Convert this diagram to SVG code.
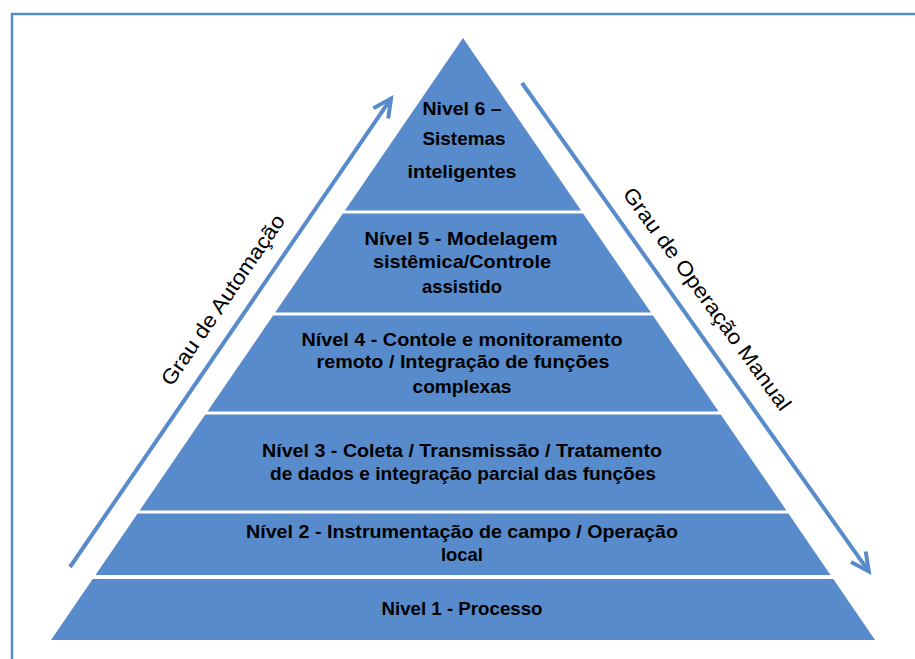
<svg xmlns="http://www.w3.org/2000/svg" width="915" height="659" viewBox="0 0 915 659">
  <style>
    .band { fill: #588bcb; }
    .lbl { font-family: "Liberation Sans", Arial, sans-serif; font-weight: bold; font-size: 19px; fill: #000; text-anchor: middle; }
    .axis { font-family: "Liberation Sans", Arial, sans-serif; font-size: 21px; fill: #000; text-anchor: middle; }
    .arrow { fill: none; stroke: #588bcb; stroke-width: 4; marker-end: url(#head); }
  </style>
  <defs>
    <marker id="head" markerUnits="userSpaceOnUse" viewBox="-24 -14 30 28" markerWidth="30" markerHeight="28" refX="0" refY="0" orient="auto" overflow="visible">
      <path d="M -18 -9 L 0 0 L -18 9" fill="none" stroke="#588bcb" stroke-width="4" stroke-linejoin="miter"/>
    </marker>
  </defs>

  <rect x="0" y="0" width="915" height="659" fill="#ffffff"/>
  <!-- outer frame (right and bottom edges fall outside the canvas) -->
  <rect x="12" y="14" width="930" height="680" fill="none" stroke="#588bcb" stroke-width="2.5"/>

  <g id="nivel6">
    <polygon class="band" points="463,38 581.1,210.5 344.9,210.5"/>
    <text class="lbl" x="462" y="115" textLength="79" lengthAdjust="spacingAndGlyphs">Nivel 6 –</text>
    <text class="lbl" x="464" y="145" textLength="83" lengthAdjust="spacingAndGlyphs">Sistemas</text>
    <text class="lbl" x="462" y="178" textLength="109" lengthAdjust="spacingAndGlyphs">inteligentes</text>
  </g>

  <g id="nivel5">
    <polygon class="band" points="342.9,213.5 583.1,213.5 650.9,312.5 275.1,312.5"/>
    <text class="lbl" x="461" y="245" textLength="193" lengthAdjust="spacingAndGlyphs">Nível 5 - Modelagem</text>
    <text class="lbl" x="462" y="268" textLength="178" lengthAdjust="spacingAndGlyphs">sistêmica/Controle</text>
    <text class="lbl" x="462" y="293" textLength="80" lengthAdjust="spacingAndGlyphs">assistido</text>
  </g>

  <g id="nivel4">
    <polygon class="band" points="273.1,315.5 652.9,315.5 718.6,411.5 207.4,411.5"/>
    <text class="lbl" x="462" y="346" textLength="321" lengthAdjust="spacingAndGlyphs">Nível 4 - Contole e monitoramento</text>
    <text class="lbl" x="463" y="368" textLength="293" lengthAdjust="spacingAndGlyphs">remoto / Integração de funções</text>
    <text class="lbl" x="462" y="393" textLength="99" lengthAdjust="spacingAndGlyphs">complexas</text>
  </g>

  <g id="nivel3">
    <polygon class="band" points="205.3,414.5 720.7,414.5 786.4,510.5 139.6,510.5"/>
    <text class="lbl" x="462" y="457" textLength="400" lengthAdjust="spacingAndGlyphs">Nível 3 - Coleta / Transmissão / Tratamento</text>
    <text class="lbl" x="463" y="480" textLength="386" lengthAdjust="spacingAndGlyphs">de dados e integração parcial das funções</text>
  </g>

  <g id="nivel2">
    <polygon class="band" points="137.6,513.5 788.4,513.5 830.5,575 95.5,575"/>
    <text class="lbl" x="462" y="538" textLength="432" lengthAdjust="spacingAndGlyphs">Nível 2 - Instrumentação de campo / Operação</text>
    <text class="lbl" x="462" y="561" textLength="42" lengthAdjust="spacingAndGlyphs">local</text>
  </g>

  <g id="nivel1">
    <polygon class="band" points="92.7,579 833.3,579 875,640 51,640"/>
    <text class="lbl" x="462" y="615" textLength="161" lengthAdjust="spacingAndGlyphs">Nivel 1 - Processo</text>
  </g>

  <g id="connectors">
    <line class="arrow" x1="70" y1="567" x2="391" y2="98.6"/>
    <line class="arrow" x1="522" y1="83" x2="868.8" y2="571.4"/>
  </g>

  <g id="eixo-automacao">
    <text class="axis" transform="translate(223,300) rotate(-55.6)" x="0" y="7" textLength="202" lengthAdjust="spacingAndGlyphs">Grau de Automação</text>
  </g>
  <g id="eixo-operacao-manual">
    <text class="axis" transform="translate(707,299) rotate(54)" x="0" y="7" textLength="270" lengthAdjust="spacingAndGlyphs">Grau de Operação Manual</text>
  </g>
</svg>
